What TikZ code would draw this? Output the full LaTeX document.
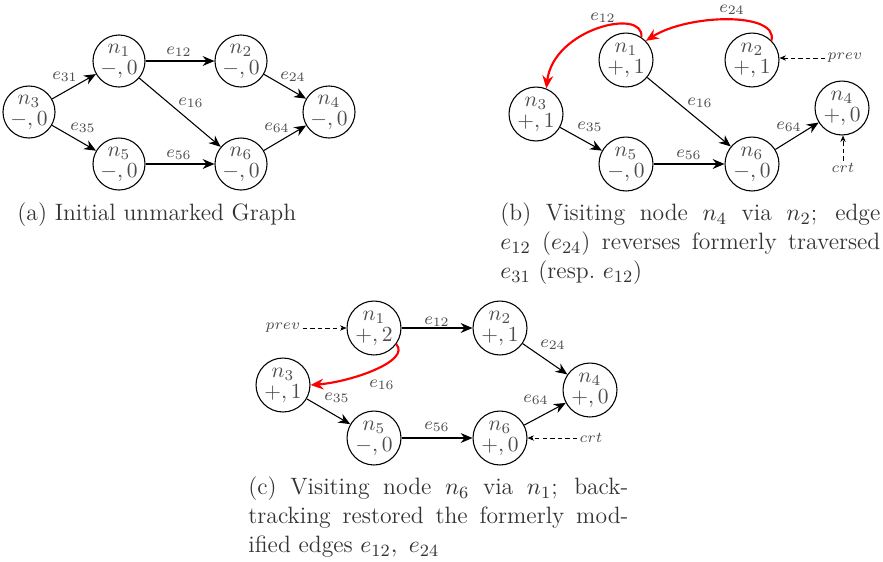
\documentclass[tikz,border=0pt]{standalone}
\usetikzlibrary{arrows.meta}
\newcommand\gnl[2]{$n_{#1}$\\[-2.2pt]$#2$}
\begin{document}
\begin{tikzpicture}[x=0.4651pt,y=-0.4651pt,
  gnode/.style={circle,draw,line width=0.5pt,minimum size=25.1pt,inner sep=0pt,align=center,text=black!70},
  gnodea/.style={gnode,minimum size=24.2pt},
  arr/.style={line width=0.5pt,-{Stealth[length=5.5pt,width=4.6pt,inset=1.8pt]}},
  redarr/.style={red,line width=1pt,-{Stealth[length=6pt,width=5pt,inset=2pt]}},
  dasharr/.style={line width=0.4pt,dash pattern=on 2pt off 1.5pt,-{Stealth[length=3pt,width=2.5pt]}},
  lab/.style={font=\footnotesize,text=black!70,inner sep=0pt},
  ptr/.style={font=\scriptsize,text=black!70,inner sep=1pt},
  captxt/.style={text=black!80,inner sep=0pt,font=\fontsize{11}{13.6}\selectfont},
  capbox/.style={captxt,align=justify,text width=176.7pt}
]
\useasboundingbox (0,0) rectangle (883,561);
% ---------- (a)
\node[gnodea] (a1) at (119,61) {\gnl{1}{-,0}};
\node[gnodea] (a2) at (241,61) {\gnl{2}{-,0}};
\node[gnodea] (a3) at (29,112) {\gnl{3}{-,0}};
\node[gnodea] (a4) at (329,112) {\gnl{4}{-,0}};
\node[gnodea] (a5) at (119,164) {\gnl{5}{-,0}};
\node[gnodea] (a6) at (241,164) {\gnl{6}{-,0}};
\draw[arr] (a3) -- (a1);
\draw[arr] (a3) -- (a5);
\draw[arr] (a1) -- (a2);
\draw[arr] (a1) -- (a6);
\draw[arr] (a5) -- (a6);
\draw[arr] (a2) -- (a4);
\draw[arr] (a6) -- (a4);
\node[lab] (la31) at (65,77) {$e_{31}$};
\node[lab] (la35) at (83,128) {$e_{35}$};
\node[lab] (la12) at (179,52) {$e_{12}$};
\node[lab] (la16) at (191,103) {$e_{16}$};
\node[lab] (la56) at (179,155) {$e_{56}$};
\node[lab] (la24) at (293,77) {$e_{24}$};
\node[lab] (la64) at (277,128) {$e_{64}$};
\node[captxt,anchor=base west] (capa) at (17,220) {(a) Initial unmarked Graph};
% ---------- (b)
\node[gnode] (b1) at (626,60) {\gnl{1}{+,1}};
\node[gnode] (b2) at (752,60) {\gnl{2}{+,1}};
\node[gnode] (b3) at (536,114) {\gnl{3}{+,1}};
\node[gnode] (b4) at (842,108) {\gnl{4}{+,0}};
\node[gnode] (b5) at (626,164) {\gnl{5}{-,0}};
\node[gnode] (b6) at (752,164) {\gnl{6}{-,0}};
\draw[arr] (b3) -- (b5);
\draw[arr] (b1) -- (b6);
\draw[arr] (b5) -- (b6);
\draw[arr] (b6) -- (b4);
\draw[redarr] (b1.56) .. controls +(3,-30) and +(7,-60) .. (b3.68);
\draw[redarr] (b2.45) .. controls +(7,-29) and +(42,-27) .. (b1.44);
\node[lab] (lb12) at (603,18) {$e_{12}$};
\node[lab] (lb24) at (732,10) {$e_{24}$};
\node[lab] (lb16) at (700,103) {$e_{16}$};
\node[lab] (lb35) at (590,127) {$e_{35}$};
\node[lab] (lb56) at (689,155) {$e_{56}$};
\node[lab] (lb64) at (789,127) {$e_{64}$};
\node[ptr] (pb) at (845,58) {$prev$};
\draw[dasharr] (pb.west) -- (pb.west -| b2.east);
\node[ptr] (cb) at (843,168) {$crt$};
\draw[dasharr] (cb.north) -- (cb.north |- b4.south);
\node[capbox,anchor=north west] (capb) at (500,202.3) {(b) Visiting node $n_4$ via $n_2$; edge\linebreak $e_{12}$ ($e_{24}$) reverses formerly traversed\linebreak $e_{31}$ (resp.\ $e_{12}$)};
% ---------- (c)
\node[gnode] (c1) at (374,328) {\gnl{1}{+,2}};
\node[gnode] (c2) at (500,328) {\gnl{2}{+,1}};
\node[gnode] (c3) at (283,385) {\gnl{3}{+,1}};
\node[gnode] (c4) at (590,390) {\gnl{4}{+,0}};
\node[gnode] (c5) at (374,438) {\gnl{5}{-,0}};
\node[gnode] (c6) at (500,438) {\gnl{6}{+,0}};
\draw[arr] (c1) -- (c2);
\draw[arr] (c2) -- (c4);
\draw[arr] (c3) -- (c5);
\draw[arr] (c5) -- (c6);
\draw[arr] (c6) -- (c4);
\draw[redarr] (c1.-36) .. controls +(15,17) and +(40,-3) .. (c3.east);
\node[lab] (lc12) at (437,322) {$e_{12}$};
\node[lab] (lc24) at (553,345) {$e_{24}$};
\node[lab] (lc35) at (337,398) {$e_{35}$};
\node[lab] (lc56) at (437,427) {$e_{56}$};
\node[lab] (lc64) at (536,400) {$e_{64}$};
\node[lab] (lc16) at (382,385) {$e_{16}$};
\node[ptr] (pc) at (283,328) {$prev$};
\draw[dasharr] (pc.east) -- (pc.east -| c1.west);
\node[ptr] (cc) at (591,438) {$crt$};
\draw[dasharr] (cc.west) -- (cc.west -| c6.east);
\node[capbox,anchor=north west] (capc) at (248,476.3) {(c) Visiting node $n_6$ via $n_1$; back-\linebreak tracking restored the formerly mod-\linebreak ified edges $e_{12},~e_{24}$};
\end{tikzpicture}
\end{document}
